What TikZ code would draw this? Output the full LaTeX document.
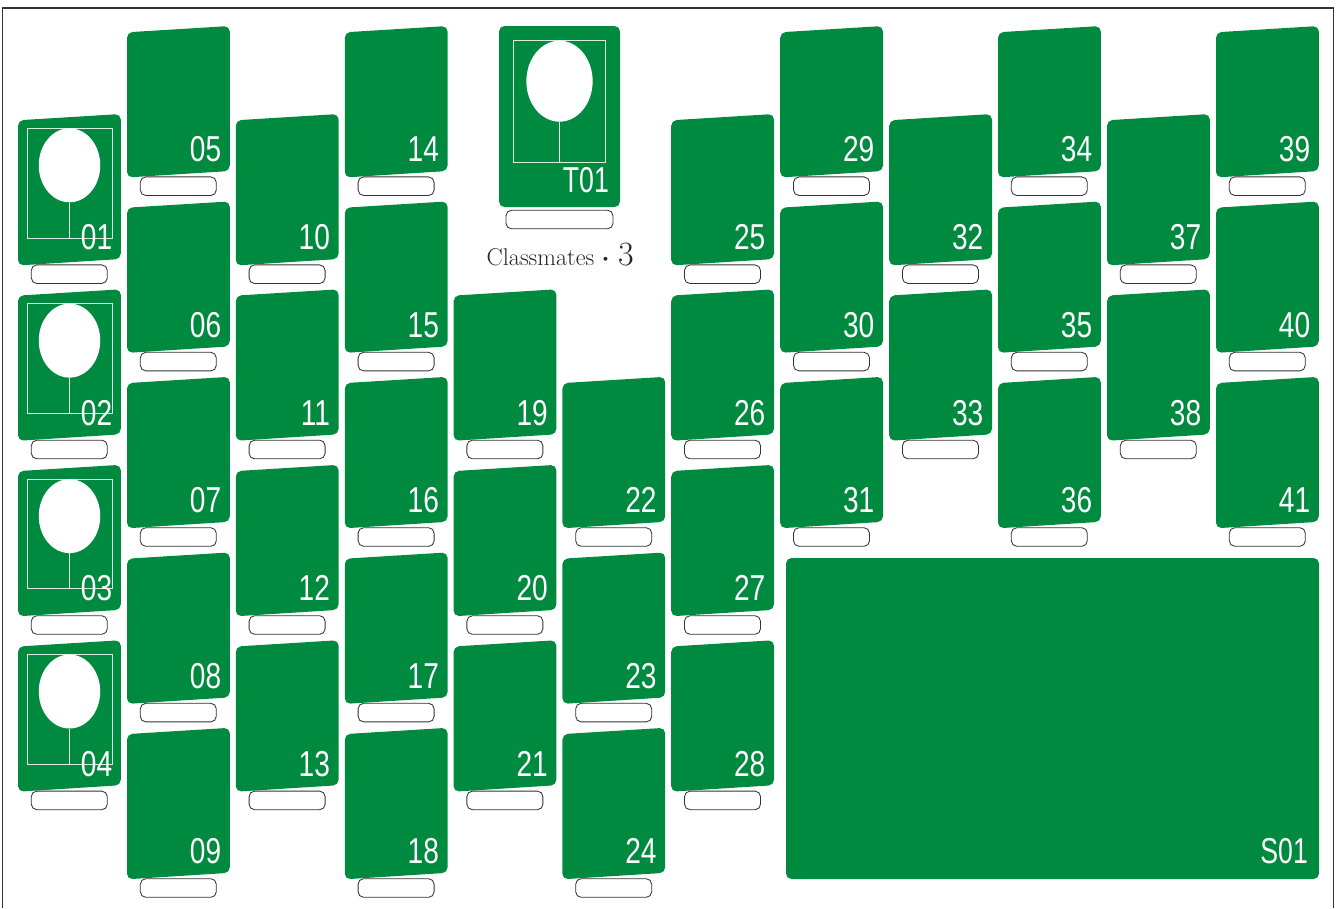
\documentclass[tikz,border=0pt]{standalone}
\usepackage{fontspec}
\newfontfamily\labelfont{Liberation Sans}
\definecolor{cardgreen}{HTML}{008A40}
\tikzset{
  x=1pt,y=-1pt,
  cardfill/.style={fill=cardgreen,draw=none,rounded corners=5.5pt},
  pill/.style={draw=black!80,fill=white,line width=0.85pt,rounded corners=5.5pt,inner sep=0pt,minimum height=18.6pt},
  seatno/.style={text=white,anchor=base east,inner sep=0pt,font=\labelfont\fontsize{36}{36}\selectfont,xscale=0.78,transform shape},
  seatword/.style={seatno,xscale=0.95},
  photobox/.style={draw=white!85!cardgreen,line width=0.9pt,inner sep=0pt,fill=none},
  photohead/.style={ellipse,fill=white,inner sep=0pt},
  photoline/.style={draw=white,line width=0.9pt},
}
\usetikzlibrary{shapes.geometric}
% card: x, top y (at the right), label
\newcommand{\seatcard}[3]{%
  \fill[cardfill] (#1,#2+6.3) -- (#1+102.8,#2) -- (#1+102.8,#2+145) -- (#1,#2+151.5) -- cycle;
  \node[pill,minimum width=76pt] (p#3) at (#1+51.3,#2+160.2) {};
  \node[seatno] (n#3) at (#1+94.3,#2+135.9) {#3};
}
\newcommand{\photo}[3]{%
  \node[photobox,minimum width=85pt,minimum height=109.7pt] (r#3) at (#1+51.5,#2+69.2) {};
  \node[photohead,minimum width=61.5pt,minimum height=74pt] (h#3) at (#1+51.5,#2+51.3) {};
  \draw[photoline] (h#3.south) -- (h#3.south |- r#3.south);
}
\begin{document}
\begin{tikzpicture}
\useasboundingbox (0,0) rectangle (1343,908);
\draw[black!80,line width=1.2pt] (2.5,908) -- (2.5,8) -- (1333.5,8) -- (1333.5,908);
% photo column
\foreach \yy/\ll in {114/01,289.3/02,464.8/03,640.2/04}{
  \fill[cardfill] (18,\yy+6.3) -- (120.8,\yy) -- (120.8,\yy+145) -- (18,\yy+151.5) -- cycle;
  \photo{18}{\yy}{\ll}
  \node[pill,minimum width=76pt] (p\ll) at (69.3,\yy+160.2) {};
  \node[seatno] (n\ll) at (18+94.3,\yy+135.9) {\ll};
}
% plain columns
\foreach \xx/\yy/\ll in {
 127/26/05,127/201.4/06,127/376.8/07,127/552.4/08,127/727.8/09,
 235.8/114/10,235.8/289.3/11,235.8/464.8/12,235.8/640.2/13,
 344.8/26/14,344.8/201.4/15,344.8/376.8/16,344.8/552.4/17,344.8/727.8/18,
 453.6/289.3/19,453.6/464.8/20,453.6/640.2/21,
 562.4/376.8/22,562.4/552.4/23,562.4/727.8/24,
 671.2/114/25,671.2/289.3/26,671.2/464.8/27,671.2/640.2/28,
 780.2/26/29,780.2/201.4/30,780.2/376.8/31,
 889.2/114/32,889.2/289.3/33,
 998/26/34,998/201.4/35,998/376.8/36,
 1107/114/37,1107/289.3/38,
 1216/26/39,1216/201.4/40,1216/376.8/41}{
  \seatcard{\xx}{\yy}{\ll}
}
% teacher
\fill[cardfill] (499,26) rectangle (620,207);
\node[photobox,minimum width=91.3pt,minimum height=121.3pt] (rT) at (559.5,101.4) {};
\node[photohead,minimum width=66.3pt,minimum height=81pt] (hT) at (559.5,81.2) {};
\draw[photoline] (hT.south) -- (hT.south |- rT.south);
\node[seatword] (nT) at (609,192) {T01};
\node[pill,minimum width=107pt] (pT) at (559.5,219.5) {};
\node[anchor=base west,inner sep=0pt,text=black!85,font=\fontsize{24.2}{26}\selectfont] (cap) at (486.5,265) {Classmates {\fontsize{34}{34}\selectfont\boldmath$\cdot$\hspace{8.5pt}3}};
% stage
\fill[cardfill] (786,558) rectangle (1319,879);
\node[seatword] (nS) at (1308,863) {S01};
\end{tikzpicture}
\end{document}
